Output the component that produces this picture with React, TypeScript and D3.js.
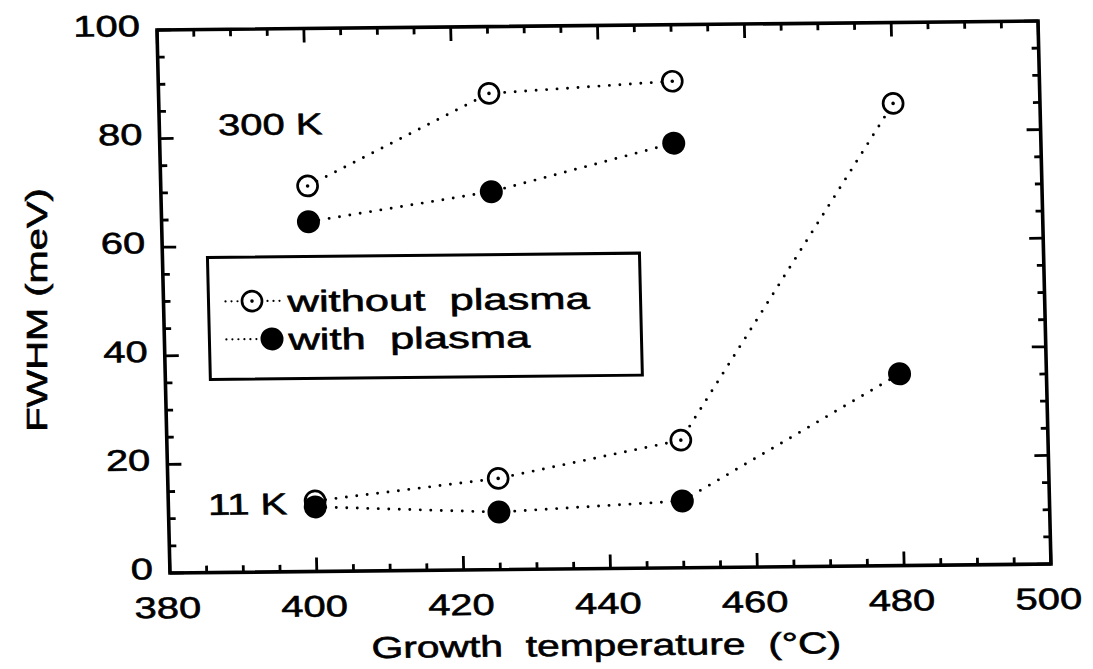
import * as d3 from 'd3'

// growth temperatures (°C)
const temps300 = [400, 425, 450]
const temps11 = [400, 425, 450, 480]

// FWHM (meV)
const without300 = [71.0, 87.7, 89.6]
const with300 = [64.4, 69.6, 78.2]
const without11 = [13.0, 16.8, 23.5, 85.1]
const with11 = [11.9, 10.6, 12.3, 35.3]

const xTicks = [380, 400, 420, 440, 460, 480, 500]
const yTicks = [0, 20, 40, 60, 80, 100]
const xMinor = d3.range(380, 501, 5)
const yMinor = d3.range(0, 101, 5)

const legendLabels = ['without  plasma', 'with  plasma']
const tempLabels = [
  { text: '300 K', x: 388.0, y: 80.5 },
  { text: '11 K', x: 385.4, y: 10.6 },
]

const W = 881
const H = 543
// the scan is slightly skewed, so the whole plot frame gets an affine matrix
const skew = 'matrix(1,-0.0102,0.0239,1,157,30)'
const font = "'Liberation Sans', Arial, Helvetica, sans-serif"
const sx = 1.33

function Label({ x, y, anchor = 'start', scale = sx, size = 30, children }: any) {
  return (
    <text
      transform={`translate(${x},${y}) scale(${scale},1)`}
      textAnchor={anchor}
      fontSize={size}
      fontFamily={font}
      fill="#000"
      stroke="#000"
      strokeWidth={0.6}
      style={{ whiteSpace: 'pre' }}
    >
      {children}
    </text>
  )
}

function OpenDot({ cx, cy }: any) {
  return (
    <g>
      <circle cx={cx} cy={cy} r={10} fill="#fff" stroke="#000" strokeWidth={2.7} />
      <circle cx={cx} cy={cy} r={1.8} fill="#000" />
    </g>
  )
}

function FilledDot({ cx, cy }: any) {
  return <circle cx={cx} cy={cy} r={11.5} fill="#000" />
}

export default function App() {
  const x = d3.scaleLinear().domain([380, 500]).range([0, W])
  const y = d3.scaleLinear().domain([0, 100]).range([H, 0])

  const line = d3
    .line<[number, number]>()
    .x((d) => x(d[0]))
    .y((d) => y(d[1]))

  const zip = (xs: number[], ys: number[]) => xs.map((t, i) => [t, ys[i]] as [number, number])
  const series = [
    { pts: zip(temps300, without300), open: true },
    { pts: zip(temps11, without11), open: true },
    { pts: zip(temps300, with300), open: false },
    { pts: zip(temps11, with11), open: false },
  ]

  const dotted = { fill: 'none', stroke: '#000', strokeWidth: 2.9, strokeLinecap: 'round' as const, strokeDasharray: '0 10.5' }

  const legendRows = [
    { y: 272, mx: 88.5, open: true },
    { y: 310, mx: 107.6, open: false },
  ]

  return (
    <svg width={1093} height={669} style={{ position: 'absolute', left: 0, top: 0, background: '#fff' }}>
      <rect width={1093} height={669} fill="#fff" />
      <g transform={skew}>
        {/* dotted connecting lines */}
        {series.map((s, i) => (
          <path key={'l' + i} d={line(s.pts) || ''} {...dotted} />
        ))}
        {/* markers */}
        {series.map((s, i) =>
          s.pts.map((p, j) =>
            s.open ? (
              <OpenDot key={`o${i}-${j}`} cx={x(p[0])} cy={y(p[1])} />
            ) : (
              <FilledDot key={`f${i}-${j}`} cx={x(p[0])} cy={y(p[1])} />
            )
          )
        )}

        {/* ticks on all four sides */}
        {xMinor.map((t) => {
          const len = t % 20 === 0 ? 14 : 7
          return (
            <g key={'xt' + t} stroke="#000" strokeWidth={2.8}>
              <line x1={x(t)} x2={x(t)} y1={H} y2={H - len} />
              <line x1={x(t)} x2={x(t)} y1={0} y2={len} />
            </g>
          )
        })}
        {yMinor.map((t) => {
          const len = t % 20 === 0 ? 14 : 7
          return (
            <g key={'yt' + t} stroke="#000" strokeWidth={2.8}>
              <line x1={0} x2={len} y1={y(t)} y2={y(t)} />
              <line x1={W} x2={W - len} y1={y(t)} y2={y(t)} />
            </g>
          )
        })}
        <rect x={0} y={0} width={W} height={H} fill="none" stroke="#000" strokeWidth={3.6} />

        {/* tick labels */}
        {xTicks.map((t) => (
          <Label key={'xl' + t} x={x(t) - 3} y={H + 45} anchor="middle">
            {t}
          </Label>
        ))}
        {yTicks.map((t) => (
          <Label key={'yl' + t} x={-17} y={y(t) + 6} anchor="end">
            {t}
          </Label>
        ))}

        {/* temperature annotations */}
        {tempLabels.map((a) => (
          <Label key={a.text} x={x(a.x)} y={y(a.y)}>
            {a.text}
          </Label>
        ))}

        {/* legend */}
        <rect x={45} y={228} width={432} height={122} fill="#fff" stroke="#000" strokeWidth={3} />
        {legendRows.map((r, i) => (
          <g key={'lg' + i}>
            <line x1={62} x2={118} y1={r.y} y2={r.y} {...dotted} strokeWidth={2.2} strokeDasharray="0 6" />
            {r.open ? <OpenDot cx={r.mx} cy={r.y} /> : <FilledDot cx={r.mx} cy={r.y} />}
            <Label x={124} y={r.y + 11} scale={1.45}>
              {legendLabels[i]}
            </Label>
          </g>
        ))}

        {/* x axis title */}
        <Label x={W / 2 - 6} y={H + 87} anchor="middle" scale={1.36}>
          {'Growth  temperature  (°C)'}
        </Label>
      </g>

      {/* y axis title */}
      <text
        transform="translate(47,310) rotate(-90) scale(1.33,1)"
        textAnchor="middle"
        fontSize={30}
        fontFamily={font}
        fill="#000"
        stroke="#000"
        strokeWidth={0.6}
      >
        FWHM (meV)
      </text>
    </svg>
  )
}
